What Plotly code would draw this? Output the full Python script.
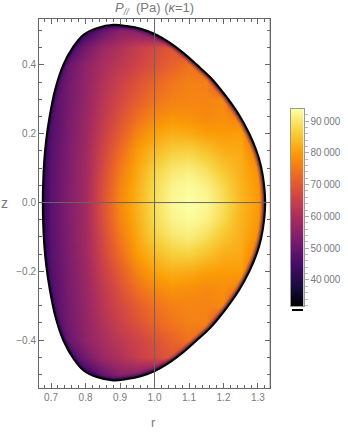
import plotly.graph_objects as go

W, H = 348, 434

# value grid (Pa), upper half, the plasma is up/down symmetric
r_vals = [0.65, 0.70, 0.75, 0.80, 0.85, 0.90, 0.95, 1.00, 1.05, 1.10, 1.15, 1.20, 1.25, 1.30, 1.35]
z_upper = [0.00, 0.05, 0.10, 0.15, 0.20, 0.25, 0.30, 0.35, 0.40, 0.45, 0.50, 0.55]
p_z00 = [35000, 48000, 53500, 59000, 69000, 77500, 83000, 89000, 92800, 93800, 92800, 89000, 83500, 80000, 60000]
p_z05 = [35000, 48000, 53500, 59000, 68500, 77000, 82500, 88500, 92000, 93200, 91800, 88000, 83000, 79500, 60000]
p_z10 = [35000, 47800, 53300, 58800, 67500, 75500, 81500, 87000, 90000, 91000, 89000, 85500, 82500, 78500, 55000]
p_z15 = [35000, 47500, 53000, 58500, 66500, 73500, 80000, 84000, 86500, 87000, 85000, 82500, 81800, 75000, 50000]
p_z20 = [35000, 47000, 52700, 58000, 65000, 71000, 77000, 81000, 82500, 82000, 80500, 80000, 80500, 68000, 45000]
p_z25 = [34000, 46500, 52300, 57500, 63500, 69000, 74000, 77500, 79000, 78500, 77500, 78500, 76000, 55000, 40000]
p_z30 = [34000, 46000, 52000, 57000, 62500, 67000, 71000, 74500, 76500, 77000, 77000, 77500, 62000, 45000, 40000]
p_z35 = [33000, 44500, 51500, 56500, 61500, 65500, 69000, 72500, 75000, 76500, 76500, 66000, 50000, 40000, 40000]
p_z40 = [33000, 42000, 50000, 56000, 60000, 63000, 66000, 69000, 72000, 74500, 72000, 58000, 45000, 40000, 40000]
p_z45 = [33000, 36000, 44000, 52000, 58000, 61000, 64500, 67500, 70000, 66000, 53000, 45000, 40000, 40000, 40000]
p_z50 = [33000, 33000, 36000, 43000, 50000, 55000, 55000, 50000, 45000, 40000, 40000, 40000, 40000, 40000, 40000]
p_z55 = [33000, 33000, 33000, 33000, 33000, 33000, 33000, 33000, 33000, 33000, 33000, 33000, 33000, 33000, 33000]
p_upper = [p_z00, p_z05, p_z10, p_z15, p_z20, p_z25, p_z30, p_z35, p_z40, p_z45, p_z50, p_z55]

# outline of the upper half, from the outboard midplane round to the inboard one
edge_r = [1.321, 1.318, 1.309, 1.296, 1.275, 1.245, 1.205, 1.161, 1.122, 1.0835, 1.045, 1.0005,
          0.960, 0.920, 0.881, 0.8325, 0.794, 0.765, 0.7357, 0.7116, 0.695, 0.6855, 0.680, 0.677, 0.676]
edge_z = [0.000, 0.050, 0.105, 0.150, 0.200, 0.255, 0.312, 0.365, 0.401, 0.435, 0.464, 0.490,
          0.505, 0.513, 0.517, 0.507, 0.488, 0.454, 0.401, 0.328, 0.246, 0.180, 0.120, 0.060, 0.000]

x_range = [0.665, 1.334]
y_range = [-0.539, 0.535]
p_min, p_max = 31800, 93800
bar_ticks = [40000, 50000, 60000, 70000, 80000, 90000]
bar_labels = ['40\u2009000', '50\u2009000', '60\u2009000', '70\u2009000', '80\u2009000', '90\u2009000']

z_vals = [-z for z in z_upper[:0:-1]] + z_upper
p_grid = p_upper[:0:-1] + p_upper

loop_r = edge_r + edge_r[-2::-1]
loop_z = edge_z + [-z for z in edge_z[-2::-1]]

GRAY = '#7a7a7a'
FRAME = '#666666'
FONT = 'Liberation Sans'

fig = go.Figure()
fig.add_trace(go.Heatmap(x=r_vals, y=z_vals, z=p_grid, colorscale='Inferno', zmin=p_min, zmax=p_max,
                         zsmooth='best', showscale=False, hoverinfo='skip'))

# darker rim just inside the outline, the outer half gets covered by the mask
for width, color in [(9, 'rgba(70,15,95,0.18)'), (6, 'rgba(50,10,85,0.3)'), (3.5, 'rgba(20,5,45,0.4)')]:
    fig.add_trace(go.Scatter(x=loop_r, y=loop_z, mode='lines', line=dict(color=color, width=width, shape='spline'),
                             showlegend=False, hoverinfo='skip'))

# white outside the plasma: frame counter-clockwise, then keyhole into the outline walked the other way
far_l, far_r = x_range[0] - 0.1, x_range[1] + 0.1
far_b, far_t = y_range[0] - 0.1, y_range[1] + 0.1
mask_r = [far_r, far_r, far_l, far_l, far_r, far_r] + loop_r[::-1] + [far_r]
mask_z = [0, far_t, far_t, far_b, far_b, 0] + loop_z[::-1] + [0]
fig.add_trace(go.Scatter(x=mask_r, y=mask_z, mode='lines', fill='toself', fillcolor='white', line=dict(width=0),
                         showlegend=False, hoverinfo='skip'))

fig.add_trace(go.Scatter(x=loop_r, y=loop_z, mode='lines', line=dict(color='black', width=2, shape='spline'),
                         showlegend=False, hoverinfo='skip'))

# axes crossing at z=0 and r=1
fig.add_trace(go.Scatter(x=x_range, y=[0, 0], mode='lines', line=dict(color=FRAME, width=1), showlegend=False, hoverinfo='skip'))
fig.add_trace(go.Scatter(x=[1, 1], y=y_range, mode='lines', line=dict(color=FRAME, width=1), showlegend=False, hoverinfo='skip'))

# colour bar as its own little axes, the built-in one has no minor ticks
fig.add_trace(go.Heatmap(x=[0, 1], y=[p_min, p_max], z=[[p_min, p_min], [p_max, p_max]], colorscale='Inferno',
                         zmin=p_min, zmax=p_max, zsmooth='best', showscale=False, hoverinfo='skip',
                         xaxis='x2', yaxis='y2'))

fig.update_layout(
    width=W, height=H,
    margin=dict(l=0, r=0, t=0, b=0),
    paper_bgcolor='white', plot_bgcolor='white',
    font=dict(family=FONT, size=10, color=GRAY),
    showlegend=False,
    xaxis=dict(domain=[39 / W, 269.7 / W], range=x_range, anchor='y', dtick=0.1, tick0=0, ticks='inside', ticklen=5, tickcolor=FRAME,
               tickformat='.1f', showgrid=False, zeroline=False, showline=True, linecolor=FRAME, linewidth=1, mirror='ticks',
               minor=dict(ticks='inside', ticklen=3, dtick=0.02, tick0=0, tickcolor=FRAME, showgrid=False)),
    yaxis=dict(domain=[(H - 388) / H, (H - 18.5) / H], range=y_range, anchor='x', dtick=0.2, tick0=0, ticks='inside', ticklen=5, tickcolor=FRAME,
               tickformat='.1f', showgrid=False, zeroline=False, showline=True, linecolor=FRAME, linewidth=1, mirror='ticks',
               minor=dict(ticks='inside', ticklen=3, dtick=0.05, tick0=0, tickcolor=FRAME, showgrid=False)),
    xaxis2=dict(domain=[290.5 / W, 303.5 / W], range=[0, 1], anchor='y2', showticklabels=False, ticks='', showgrid=False,
                zeroline=False, showline=True, linecolor='#999999', linewidth=1, mirror=True),
    yaxis2=dict(domain=[(H - 306) / H, (H - 109) / H], range=[p_min, p_max], anchor='x2', side='right', tickvals=bar_ticks, ticktext=bar_labels,
                ticks='outside', ticklen=4, tickcolor='#aaaaaa', showgrid=False, zeroline=False, showline=True, linecolor='#999999',
                linewidth=1, mirror=True, minor=dict(ticks='outside', ticklen=3, dtick=2000, tick0=0, tickcolor='#bbbbbb', showgrid=False)),
    annotations=[
        dict(text='<i>P</i><sub><i>//</i></sub>\u00a0 (Pa) (<i>\u03ba</i>=1)', x=154 / W, y=(H - 8) / H, xref='paper', yref='paper',
             showarrow=False, font=dict(family=FONT, size=13, color=GRAY), xanchor='center', yanchor='middle'),
        dict(text='r', x=153 / W, y=(H - 422) / H, xref='paper', yref='paper', showarrow=False,
             font=dict(family=FONT, size=13, color=GRAY), xanchor='center', yanchor='middle'),
        dict(text='z', x=4 / W, y=(H - 203) / H, xref='paper', yref='paper', showarrow=False,
             font=dict(family=FONT, size=14, color=GRAY), xanchor='center', yanchor='middle'),
    ],
    shapes=[
        dict(type='rect', xref='paper', yref='paper', x0=292 / W, x1=303 / W, y0=(H - 311) / H, y1=(H - 309) / H,
             fillcolor='black', line=dict(width=0)),
    ],
)

fig.write_html("out.html", config={'displayModeBar': False}, post_script="document.body.style.margin='0';")
